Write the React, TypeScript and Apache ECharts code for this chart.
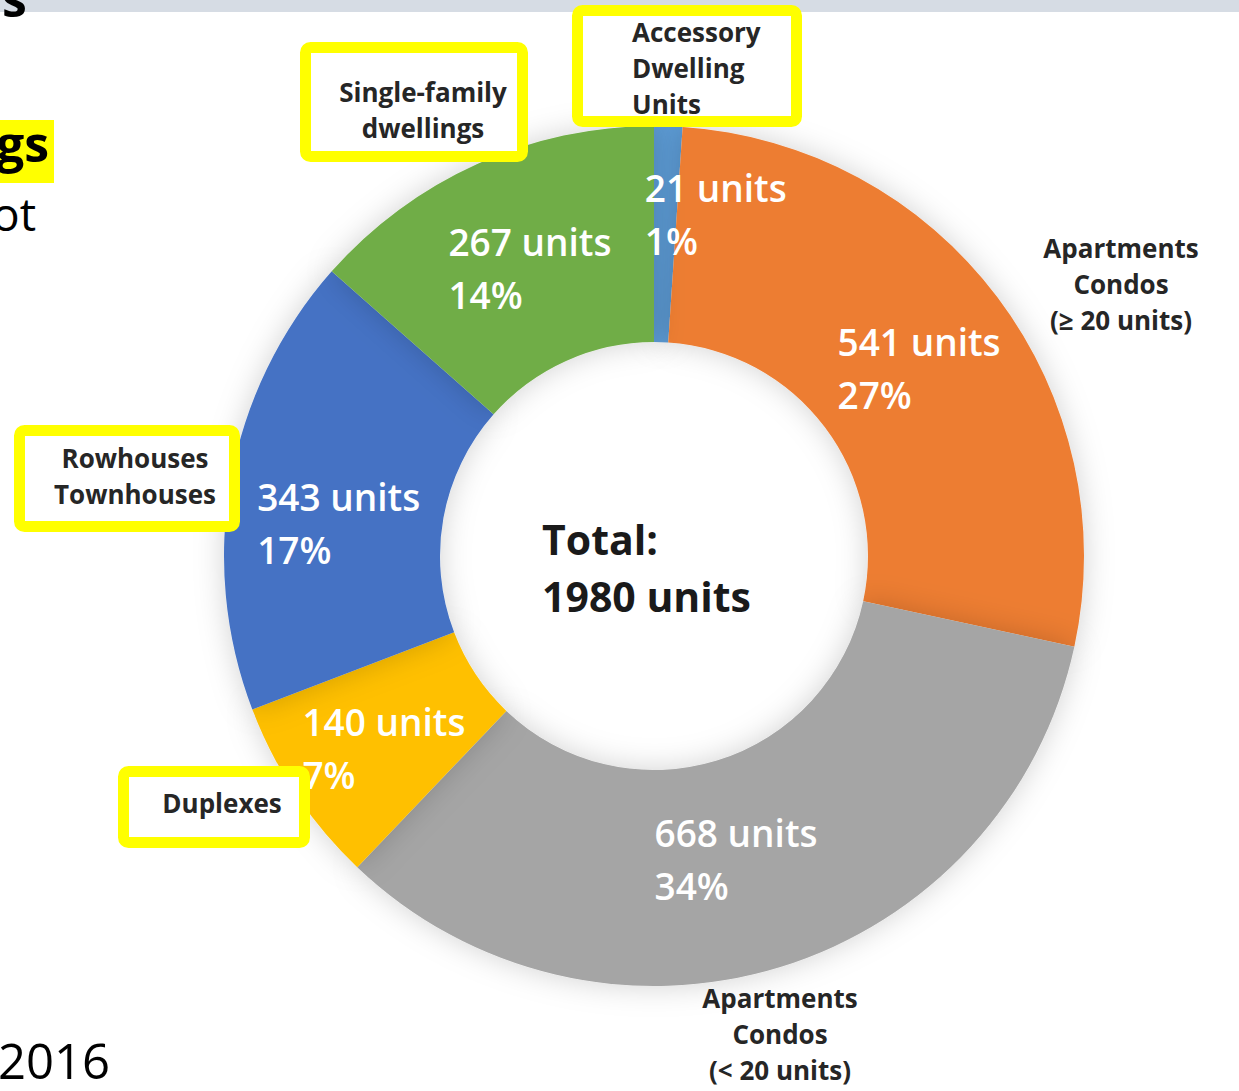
import React, { useEffect, useRef } from "react";
import * as echarts from "echarts";

const categories = [
  "Accessory Dwelling Units",
  "Apartments Condos (≥ 20 units)",
  "Apartments Condos (< 20 units)",
  "Duplexes",
  "Rowhouses Townhouses",
  "Single-family dwellings",
];
const units = [21, 541, 668, 140, 343, 267];
const colors = ["#5B9BD5", "#ED7D31", "#A5A5A5", "#FFC000", "#4472C4", "#70AD47"];
const calloutLabels = [
  "Accessory\nDwelling\nUnits",
  "Apartments\nCondos\n(≥ 20 units)",
  "Apartments\nCondos\n(< 20 units)",
  "Duplexes",
  "Rowhouses\nTownhouses",
  "Single-family\ndwellings",
];
const boxed = [true, false, false, true, true, true];

// layout (not data)
const calloutPos: Array<{ x: number; y: number; align: string }> = [
  { x: 632, y: 14, align: "left" },
  { x: 1121, y: 230, align: "center" },
  { x: 780, y: 980, align: "center" },
  { x: 222, y: 785, align: "center" },
  { x: 135, y: 440, align: "center" },
  { x: 423, y: 74, align: "center" },
];
const boxRects = [
  [572, 5, 802, 127],
  null,
  null,
  [118, 766, 310, 848],
  [14, 425, 240, 532],
  [300, 42, 528, 162],
];
const labelShift = [
  [65, -17],
  [9, 8],
  [-10, -8],
  [4, 12],
  [8, 25],
  [13, 8],
];

export default function App() {
  const ref = useRef<HTMLDivElement>(null);
  useEffect(() => {
    const chart = echarts.init(ref.current!, null, { renderer: "svg" });
    const total = units.reduce((a, b) => a + b, 0);
    const lw = 11;
    const graphics: any[] = [
      { type: "rect", shape: { x: 0, y: 0, width: 1239, height: 12 }, style: { fill: "#D6DCE4" }, z: 1 },
      { type: "text", x: 2, y: 23, style: { text: "s", font: "bold 50px 'Open Sans'", fill: "#000", textVerticalAlign: "bottom" }, z: 2 },
      { type: "rect", shape: { x: 0, y: 120, width: 54, height: 63 }, style: { fill: "#FFFF00" }, z: 1 },
      { type: "text", x: -4, y: 168, style: { text: "gs", font: "bold 50px 'Open Sans'", fill: "#000", textVerticalAlign: "bottom" }, z: 2 },
      { type: "text", x: -8, y: 236, style: { text: "ot", font: "46px 'Open Sans'", fill: "#000", textVerticalAlign: "bottom" }, z: 2 },
      { type: "text", x: -2, y: 1084, style: { text: "2016", font: "49px 'Open Sans'", fill: "#000", textVerticalAlign: "bottom" }, z: 2 },
      {
        type: "text",
        x: 542,
        y: 510,
        style: {
          text: "Total:\n" + total + " units",
          font: "bold 41px 'Open Sans'",
          lineHeight: 57,
          fill: "#1a1a1a",
          textAlign: "left",
          textVerticalAlign: "top",
        },
        z: 20,
      },
    ];
    categories.forEach((c, i) => {
      const b = boxRects[i];
      if (boxed[i] && b) {
        graphics.push({
          type: "rect",
          shape: { x: b[0] + lw / 2, y: b[1] + lw / 2, width: b[2] - b[0] - lw, height: b[3] - b[1] - lw, r: 5 },
          style: { fill: "#fff", stroke: "#FFFF00", lineWidth: lw },
          z: 50,
        });
      }
      const p = calloutPos[i];
      graphics.push({
        type: "text",
        x: p.x,
        y: p.y,
        style: {
          text: calloutLabels[i],
          font: "bold 26px 'Open Sans'",
          lineHeight: 36,
          fill: "#262626",
          textAlign: p.align,
          textVerticalAlign: "top",
        },
        z: 60,
      });
    });

    chart.setOption({
      animation: false,
      backgroundColor: "#fff",
      graphic: graphics,
      series: [
        {
          type: "pie",
          center: [654, 556],
          radius: [214, 430],
          startAngle: 90,
          clockwise: true,
          percentPrecision: 0,
          avoidLabelOverlap: false,
          data: categories.map((c, i) => ({ name: c, value: units[i], itemStyle: { color: colors[i] } })),
          itemStyle: { borderWidth: 0, shadowBlur: 30, shadowColor: "rgba(0,0,0,0.18)" },
          emphasis: { disabled: true },
          label: {
            position: "inside",
            formatter: (p: any) => `{a|${p.value} units}\n{a|${p.percent}%}`,
            rich: {
              a: {
                width: 170,
                align: "left",
                color: "#fff",
                fontFamily: "Open Sans",
                fontWeight: 600,
                fontSize: 37,
                lineHeight: 53,
              },
            },
          },
          labelLine: { show: false },
          labelLayout: (params: any) => {
            const s = labelShift[params.dataIndex];
            return { dx: s[0], dy: s[1] };
          },
        },
      ],
    });
    return () => chart.dispose();
  }, []);
  return <div ref={ref} style={{ position: "fixed", left: 0, top: 0, width: 1239, height: 1091 }} />;
}
